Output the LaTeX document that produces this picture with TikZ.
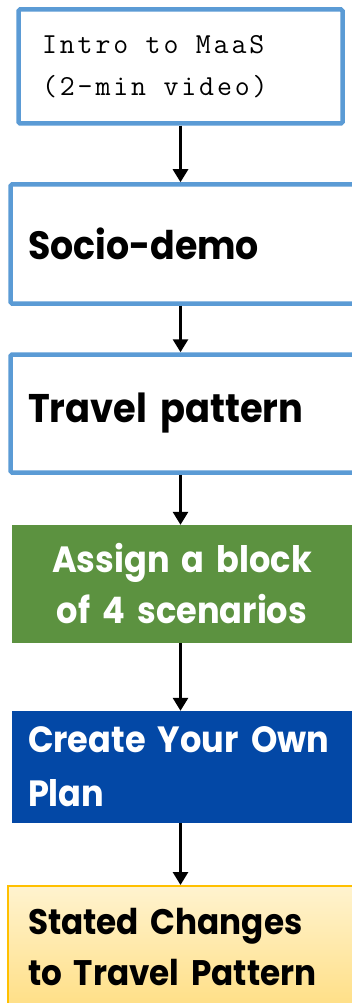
\documentclass[tikz,border=0pt]{standalone}
\usepackage{fontspec}
\usepackage{tikz}
\usetikzlibrary{arrows.meta,positioning}
\newfontfamily\gothfont{Poppins}[FakeStretch=0.92]
\newfontfamily\introfont{Latin Modern Mono}[LetterSpace=10]
\definecolor{MaasBlue}{HTML}{5B9BD5}
\definecolor{MaasGreen}{HTML}{5C9240}
\definecolor{MaasNavy}{HTML}{0348A6}
\definecolor{MaasGold}{HTML}{FFC000}
\definecolor{MaasCreamTop}{HTML}{FFF3CF}
\definecolor{MaasCreamBot}{HTML}{FFDF86}

\begin{document}
\begin{tikzpicture}[x=1pt, y=1pt,
  outlinebox/.style={draw=MaasBlue, line width=4.5pt, fill=white, rounded corners=1.5pt},
  stepfont/.style 2 args={font=\gothfont\bfseries\fontsize{#1}{#2}\selectfont},
  flowarrow/.style={-{Triangle[width=15pt,length=13pt]}, line width=2.8pt, black}]
\useasboundingbox (0,0) rectangle (352,-1003);

% Boxes - one per step, top to bottom
\node[outlinebox, minimum width=324, minimum height=114, text width=277, inner xsep=23.5, align=left,
  font=\introfont\fontsize{29}{42}\selectfont]
  (intro) at (180.5,-66.5) {Intro\hspace{0.6em}to\hspace{0.6em}MaaS\\(2-min\hspace{0.6em}video)};

\begin{scope}
\clip (0,0) rectangle (352,-1003);
\node[outlinebox, minimum width=359.5, minimum height=119, text width=324.5, inner xsep=17.5, align=left,
  stepfont={39.5}{50}] (socio) at (190.25,-244) {Socio-demo};

\node[outlinebox, minimum width=359.5, minimum height=118, text width=324.5, inner xsep=17.5, align=left,
  stepfont={40}{50}] (travel) at (190.25,-413.5) {Travel pattern};

\node[fill=MaasGreen, text=white, minimum width=340, minimum height=118, text width=320, inner xsep=10,
  align=center, stepfont={36.5}{51}] (assign) at (182,-584) {Assign a block\\of 4 scenarios};

\node[fill=MaasNavy, text=white, minimum width=358, minimum height=112, text width=326, inner xsep=16,
  align=left, stepfont={36.5}{54}] (plan) at (191,-767) {Create Your Own\\Plan};

\node[draw=MaasGold, line width=2pt, top color=MaasCreamTop, bottom color=MaasCreamBot,
  minimum width=364, minimum height=121, text width=324, inner xsep=20, align=left,
  stepfont={35.5}{51}] (stated) at (190,-946.5) {Stated Changes\\to Travel Pattern};
\end{scope}

% Arrows between the steps
\draw[flowarrow] (intro.south) -- (intro.south |- socio.north);
\draw[flowarrow] (intro.south |- socio.south) -- (intro.south |- travel.north);
\draw[flowarrow] (intro.south |- travel.south) -- (intro.south |- assign.north);
\draw[flowarrow] (intro.south |- assign.south) -- (intro.south |- plan.north);
\draw[flowarrow] (intro.south |- plan.south) -- (intro.south |- stated.north);

\end{tikzpicture}
\end{document}
